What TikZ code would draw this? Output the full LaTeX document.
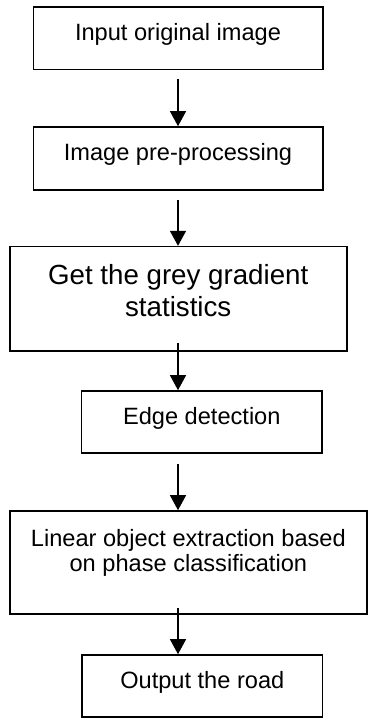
\documentclass[tikz,border=0pt]{standalone}
\usepackage{fontspec}
\setmainfont{Liberation Sans}
\usetikzlibrary{arrows.meta}

\begin{document}
\begin{tikzpicture}[x=1pt,y=-1pt,
    stepbox/.style={draw,line width=1.6pt,inner sep=0pt,align=center,
        font=\fontsize{23.6}{25.7}\selectfont,text height=16pt,text depth=12pt},
    flow/.style={line width=1.2pt,-{Triangle[width=16pt,length=15pt]}}]
        % page frame
        \useasboundingbox (0,0) rectangle (368,718);
        % processing steps
        \node[stepbox,minimum width=289.4pt,minimum height=62.6pt] at (178,38) (input) {Input original image};
        \node[stepbox,minimum width=289.4pt,minimum height=63pt] at (178,158.5) (pre) {Image pre-processing};
        \node[stepbox,minimum width=337pt,minimum height=104.3pt,font=\fontsize{27.7}{32}\selectfont,
              text height=44pt,text depth=9.6pt] at (178.2,298.8) (grey) {Get the grey gradient\\statistics};
        \node[stepbox,minimum width=240.3pt,minimum height=62pt] at (201.8,422) (edge) {Edge detection};
        \node[stepbox,minimum width=357.3pt,minimum height=103pt,
              text height=30.4pt,text depth=12pt] at (188.35,562.5) (linear) {Linear object extraction based\\on phase classification};
        \node[stepbox,minimum width=240.7pt,minimum height=62pt] at (202.3,686) (road) {Output the road};
        % arrows between steps
        \draw[flow] (input.south) ++(0,8.7) -- (pre.north);
        \draw[flow] (pre.south) ++(0,8.7) -- (grey.north -| input.south);
        \draw[flow] (grey.south -| input.south) ++(0,-8.3) -- (edge.north -| input.south);
        \draw[flow] (edge.south -| input.south) ++(0,9.7) -- (linear.north -| input.south);
        \draw[flow] (linear.south -| input.south) ++(0,-7.3) -- (road.north -| input.south);
    \end{tikzpicture}
\end{document}
